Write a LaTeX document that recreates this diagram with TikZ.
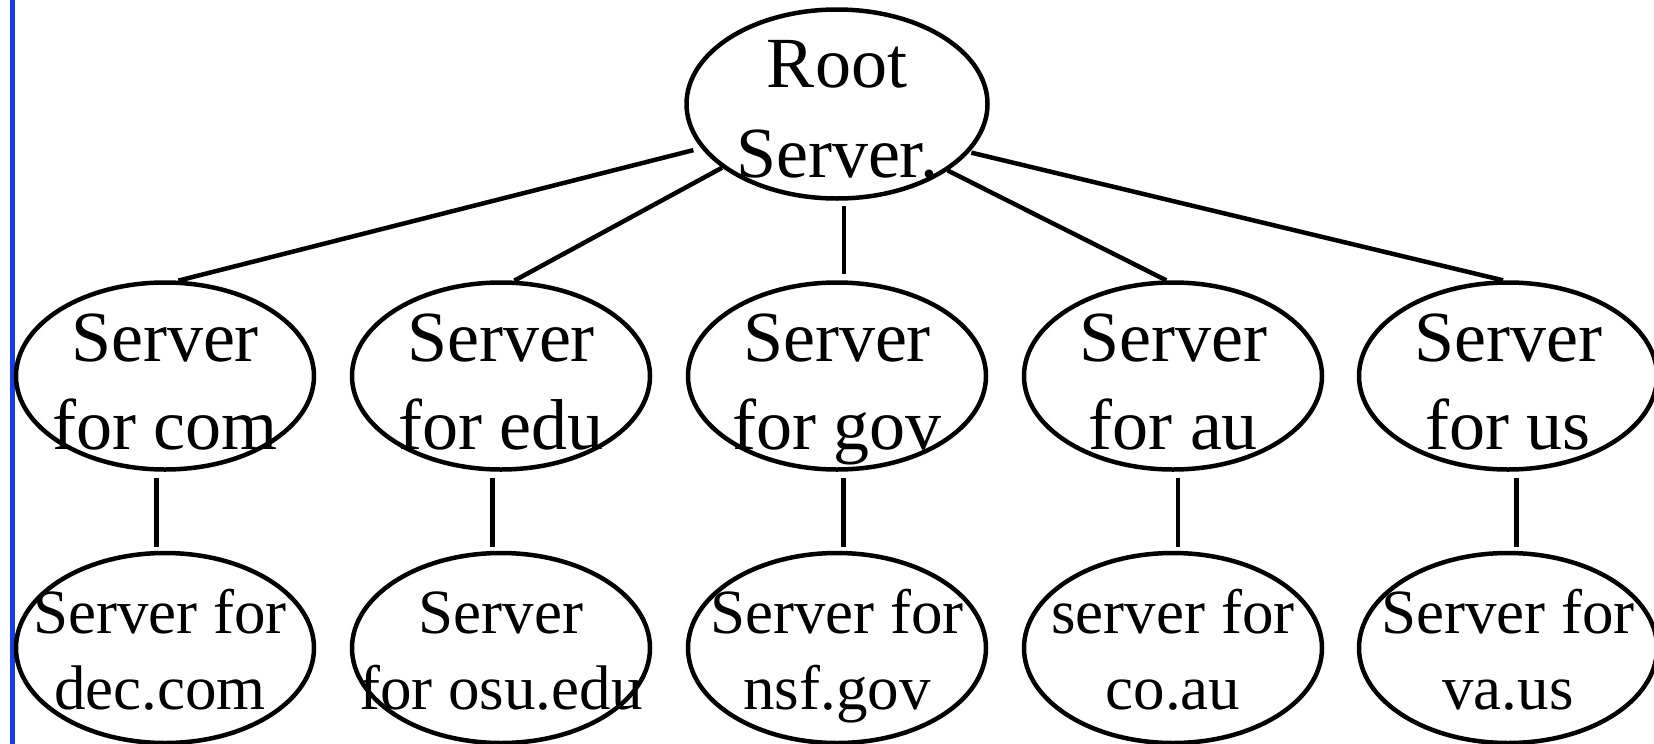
\documentclass[tikz,border=0pt]{standalone}
\usepackage{fontspec}
\setmainfont{Liberation Serif}
\usetikzlibrary{shapes.geometric}
\definecolor{barblue}{RGB}{20,60,235}
\begin{document}
\begin{tikzpicture}[x=1pt,y=-1pt,
  bubble/.style={draw, ellipse, line width=4.5pt, inner sep=0pt, minimum width=298pt, minimum height=187pt},
  lowbubble/.style={bubble, minimum height=190pt},
  big/.style={anchor=base, inner sep=0pt, align=center, font=\fontsize{72}{88}\selectfont},
  small/.style={anchor=base, inner sep=0pt, align=center, font=\fontsize{63}{76}\selectfont},
  link/.style={line width=4.5pt},
  vlink/.style={line width=4.5pt, shorten <=6pt, shorten >=4pt}]
\useasboundingbox (0,0) rectangle (1654,744);
\fill[barblue] (10,0) rectangle (15,744);
% root
\node[bubble, minimum width=301pt, minimum height=189pt] (root) at (837,104) {};
\node[big, font=\fontsize{72}{90}\selectfont] (rootT) at (837,177.5) {Root\\Server.};
% second row
\node[bubble] (com) at (165,376) {};
\node[bubble] (edu) at (501,376) {};
\node[bubble] (gov) at (837,376) {};
\node[bubble] (au)  at (1173,376) {};
\node[bubble] (us)  at (1508,376) {};
\node[big] (comT) at (165,449) {Server\\for com};
\node[big] (eduT) at (501,449) {Server\\for edu};
\node[big] (govT) at (837,449) {Server\\for gov};
\node[big] (auT)  at (1173,449) {Server\\for au};
\node[big] (usT)  at (1508,449) {Server\\for us};
% third row
\node[lowbubble] (dcom) at (165,648) {};
\node[lowbubble] (dedu) at (501,648) {};
\node[lowbubble] (dgov) at (837,648) {};
\node[lowbubble] (dau)  at (1173,648) {};
\node[lowbubble] (dus)  at (1508,648) {};
\node[small] (dcomT) at (160,709) {Server for\\dec.com};
\node[small] (deduT) at (501,709) {Server\\for osu.edu};
\node[small] (dgovT) at (837,709) {Server for\\nsf.gov};
\node[small] (dauT)  at (1173,709) {server for\\co.au};
\node[small] (dusT)  at (1508,709) {Server for\\va.us};
% connectors root -> second row
\draw[link, shorten <=8pt] (root.198) -- (com.82.6);
\draw[link] (root.209.6) -- (edu.82);
\draw[link, shorten <=5pt, shorten >=6pt] (root.274.3) -- (root.274.3 |- gov.north);
\draw[link] (root.329.2) -- (au.94.3);
\draw[link, shorten <=2pt] (root.340.9) -- (us.93.1);
% connectors second -> third row
\draw[vlink] (com.265.1) -- (com.265.1 |- dcom.north);
\draw[vlink] (edu.265.1) -- (edu.265.1 |- dedu.north);
\draw[vlink] (gov.274.3) -- (gov.274.3 |- dgov.north);
\draw[vlink] (au.273.7) -- (au.273.7 |- dau.north);
\draw[vlink] (us.275.5) -- (us.275.5 |- dus.north);
\end{tikzpicture}
\end{document}
